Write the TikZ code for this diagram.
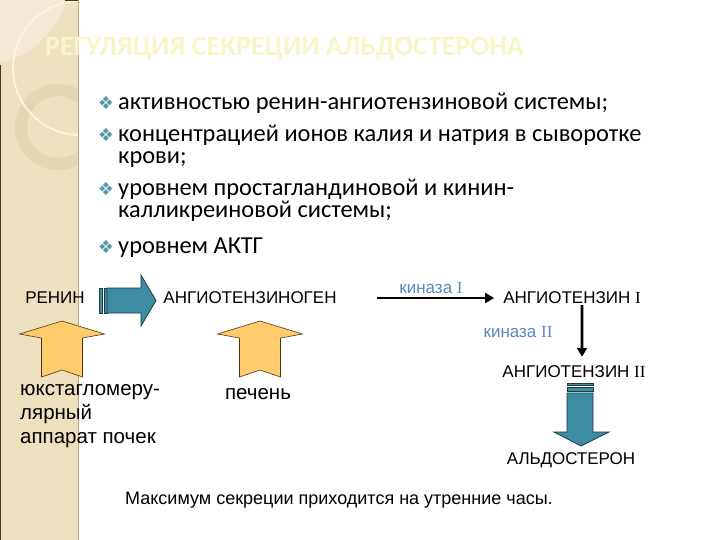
\documentclass[tikz,border=0pt]{standalone}
\usepackage{fontspec}
\setmainfont{Carlito}
\newfontfamily\diagfont{Liberation Sans}
\newfontfamily\romanfont{Liberation Serif}
\newfontfamily\symfont{DejaVu Sans}
\usetikzlibrary{arrows.meta, positioning}
\definecolor{slideBand}{HTML}{EDE1C0}
\definecolor{bandLight}{HTML}{F3EAD5}
\definecolor{ringShade}{HTML}{E3D6B3}
\definecolor{bandArc}{HTML}{FBF5E0}
\definecolor{bandEdge}{HTML}{B8A57E}
\definecolor{titleYellow}{HTML}{F8F6C8}
\definecolor{bulletTeal}{HTML}{5A9AA8}
\definecolor{enzymeBlue}{HTML}{5C86C4}
\definecolor{flowTeal}{HTML}{3D8CA2}
\definecolor{flowEdge}{HTML}{1E3A44}
\definecolor{organFill}{HTML}{FFCB6B}
\definecolor{organEdge}{HTML}{4A3A1A}

\tikzset{
  pics/organup/.style={code={
    \filldraw[fill=organFill, draw=organEdge, line width=0.6bp]
      (0,0) -- (42.5,13) -- (20.5,17) -- (20.5,56) -- (0,49) -- (-20.5,56)
      -- (-20.5,17) -- (-42.5,13) -- cycle;
  }}
}

\begin{document}
\begin{tikzpicture}[x=1bp, y=-1bp,
  headline/.style={anchor=west, inner sep=0pt, text=titleYellow,
                   font=\fontsize{28bp}{30bp}\selectfont\bfseries},
  item/.style={anchor=base west, inner sep=0pt, font=\fontsize{24.4bp}{26bp}\selectfont},
  marker/.style={anchor=base, inner sep=0pt, text=bulletTeal, font=\symfont\fontsize{18bp}{20bp}\selectfont},
  term/.style={inner sep=2bp, font=\diagfont\fontsize{17bp}{21bp}\selectfont},
  enzyme/.style={term, text=enzymeBlue},
  organ/.style={term, align=left, anchor=north west, inner sep=0pt,
                font=\diagfont\fontsize{20.5bp}{24bp}\selectfont},
  blockarrow/.style={fill=flowTeal, draw=flowEdge, line width=0.8bp},
  a/.style={-{Triangle[length=9bp, width=10bp]}, line width=2.6bp}
]
\useasboundingbox (0,0) rectangle (720,540);
\fill[white] (0,0) rectangle (720,540);

% side band
\fill[slideBand] (0,0) rectangle (78,540);
\begin{scope}
  \clip (0,0) rectangle (78,540);
  \fill[bandLight] (-20,-25) circle (90);
  \fill[ringShade, even odd rule] (58,127) circle (43) (58,127) circle (31);
  \draw[bandArc, line width=1.8bp] (80,68) circle (67);
\end{scope}
\draw[bandEdge, line width=1bp] (78,0) -- (78,540);
\draw[organEdge, line width=1bp] (0.5,65) -- (0.5,540);
\draw[organEdge, line width=1.5bp] (65,0.5) -- (78,0.5);

\node[headline] (title) at (45,48) {РЕГУЛЯЦИЯ СЕКРЕЦИИ АЛЬДОСТЕРОНА};

% factors
\node[item] (f1) at (118,110) {активностью ренин-ангиотензиновой системы;};
\node[item] (f2) at (118,142) {концентрацией ионов калия и натрия в сыворотке};
\node[item] (f2b) at (118,164) {крови;};
\node[item] (f3) at (118,196) {уровнем простагландиновой и кинин-};
\node[item] (f3b) at (118,218) {калликреиновой системы;};
\node[item] (f4) at (118,254) {уровнем АКТГ};
\foreach \n in {f1,f2,f3,f4}
  \node[marker] at ([xshift=-12bp]\n.base west) {❖};

% cascade
\node[term] (renin) at (55,298) {РЕНИН};
\node[term] (agen) at (250,298) {АНГИОТЕНЗИНОГЕН};
\node[term] (ang1) at (572,298) {АНГИОТЕНЗИН {\romanfont I}};
\node[term] (ang2) at (574,372) {АНГИОТЕНЗИН {\romanfont II}};
\node[term] (aldo) at (571,460) {АЛЬДОСТЕРОН};
\node[enzyme] (kin1) at (431,288) {киназа {\romanfont I}};
\node[enzyme] (kin2) at (518,332) {киназа {\romanfont II}};
\node[organ] (jga) at (20,384) {юкстагломеру-\\лярный\\аппарат почек};
\node[term, font=\diagfont\fontsize{20.5bp}{24bp}\selectfont] (liver) at (258,394) {печень};
\node[term, anchor=west, font=\diagfont\fontsize{18bp}{22bp}\selectfont] (note) at (123,500) {Максимум секреции приходится на утренние часы.};

\draw[a] ([xshift=38bp]agen.east) -- ([xshift=-7bp]ang1.west);
\draw[a] ([xshift=10bp, yshift=1bp]ang1.south) -- ([xshift=8bp, yshift=7bp]ang2.north);

% block arrows
\filldraw[blockarrow] (99,288) rectangle (102,313);
\filldraw[blockarrow] (104,288) rectangle (107,313);
\filldraw[blockarrow] (107,288) -- (141,288) -- (141,275) -- (156,300.5)
  -- (141,326) -- (141,313) -- (107,313) -- cycle;
\filldraw[blockarrow] (567,383) rectangle (593,385.5);
\filldraw[blockarrow] (567,387.5) rectangle (593,391);
\filldraw[blockarrow] (567,393) -- (567,432) -- (554,432) -- (581,446)
  -- (609,432) -- (593,432) -- (593,393) -- cycle;

\pic at (62,321) {organup};
\pic at (260,321) {organup};
\end{tikzpicture}
\end{document}
